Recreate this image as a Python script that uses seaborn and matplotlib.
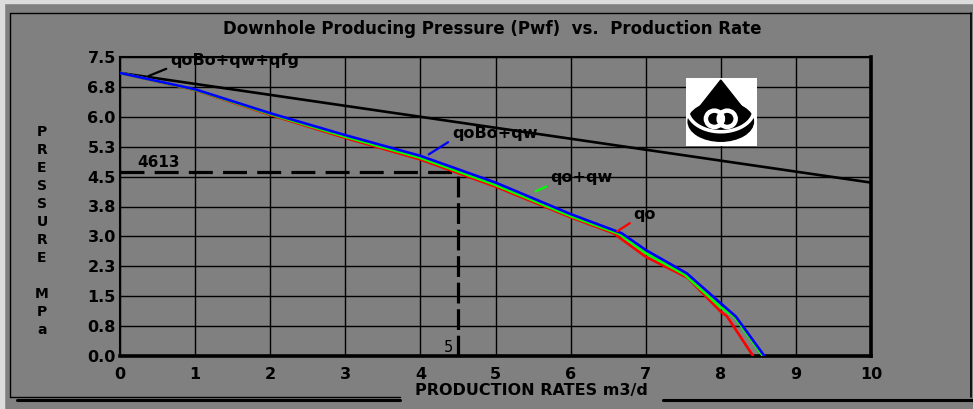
import numpy as np
import pandas as pd
import matplotlib
matplotlib.use("Agg")
import matplotlib.pyplot as plt
from matplotlib.patches import Rectangle, Polygon, Ellipse, Circle
from matplotlib.lines import Line2D
import seaborn as sns

# values
q_blue = [0, 1, 2, 3, 4, 5, 6, 6.68, 7, 7.55, 8, 8.2, 8.58]
p_blue = [7.10, 6.69, 6.09, 5.54, 5.02, 4.35, 3.56, 3.08, 2.66, 2.07, 1.32, 0.99, 0.0]

q_green = [0, 1, 2, 3, 4, 5, 6, 6.65, 7, 7.52, 8, 8.18, 8.56]
p_green = [7.10, 6.68, 6.07, 5.50, 4.97, 4.29, 3.51, 3.06, 2.58, 2.04, 1.22, 0.99, 0.0]

q_red = [0, 1, 2, 3, 4, 5, 6, 6.57, 7, 7.56, 8, 8.08, 8.43]
p_red = [7.10, 6.67, 6.05, 5.47, 4.93, 4.25, 3.48, 3.08, 2.49, 1.96, 1.11, 1.00, 0.0]

q_total = [0, 10]
p_total = [7.10, 4.35]

op_rate = 4.5
op_pwf = 4.613

x_ticks = list(range(0, 11))
y_ticks = [0, 0.75, 1.5, 2.25, 3.0, 3.75, 4.5, 5.25, 6.0, 6.75, 7.5]
y_tick_labels = ["0.0", "0.8", "1.5", "2.3", "3.0", "3.8", "4.5", "5.3", "6.0", "6.8", "7.5"]

GRAY = "#808080"

sns.set_theme(style="white", rc={"axes.facecolor": GRAY, "figure.facecolor": GRAY})
plt.rcParams['font.family'] = ['DejaVu Sans']

W, H = 973, 409
fig = plt.figure(figsize=(W / 100, H / 100), dpi=100)
ax = fig.add_axes([120 / W, (H - 356) / H, 751 / W, 299 / H])

# curves
series = [
    ("qoBo+qw+qfg", q_total, p_total, "black"),
    ("qo", q_red, p_red, "#ff0000"),
    ("qo+qw", q_green, p_green, "#00ff00"),
    ("qoBo+qw", q_blue, p_blue, "#0000ff"),
]
for name, q, p, c in series:
    df = pd.DataFrame({"rate": q, "pwf": p})
    sns.lineplot(data=df, x="rate", y="pwf", color=c, lw=1.9, sort=False, ax=ax, zorder=4)

# operating point dashed lines
ax.plot([0, op_rate], [op_pwf, op_pwf], color="black", lw=2.3, dashes=(7.5, 3.2), zorder=3)
ax.plot([op_rate, op_rate], [0, op_pwf], color="black", lw=2.3, dashes=(6.5, 1.8), zorder=3)
ax.text(0.23, op_pwf + 0.06, f"{op_pwf * 1000:.0f}", fontsize=11, fontweight="bold",
        ha="left", va="bottom", color="black")
ax.text(op_rate - 0.06, 0.22, "5", fontsize=10.5, ha="right", va="center", color="black")

# curve labels with leader lines
labels = [
    ("qoBo+qw+qfg", (0.67, 7.42), (0.35, 7.0), "black"),
    ("qoBo+qw", (4.42, 5.59), (4.08, 5.02), "#0000ff"),
    ("qo+qw", (5.73, 4.47), (5.50, 4.10), "#00ff00"),
    ("qo", (6.84, 3.56), (6.59, 3.09), "#ff0000"),
]
for txt, tpos, apos, c in labels:
    ax.annotate("", xy=apos, xytext=(tpos[0] - 0.02, tpos[1] - 0.19),
                arrowprops=dict(arrowstyle="-", color=c, lw=1.6), zorder=5)
    ax.text(tpos[0], tpos[1], txt, fontsize=11.5, fontweight="bold", color="black",
            ha="left", va="center", zorder=6)

ax.set_xlim(0, 10)
ax.set_ylim(0, 7.5)
ax.set_xticks(x_ticks)
ax.set_xticklabels([str(v) for v in x_ticks])
ax.set_yticks(y_ticks)
ax.set_yticklabels(y_tick_labels)
ax.tick_params(length=0, labelsize=11.5, colors="black")
ax.tick_params(axis="x", pad=8)
ax.tick_params(axis="y", pad=3)
for lab in ax.get_xticklabels() + ax.get_yticklabels():
    lab.set_fontweight("bold")
ax.grid(True, color="black", lw=1.0, zorder=1)
ax.set_axisbelow(True)
ax.set_xlabel("")
ax.set_ylabel("")
for side, lw in [("left", 1.5), ("top", 1.5), ("bottom", 2.6), ("right", 2.6)]:
    ax.spines[side].set_visible(True)
    ax.spines[side].set_color("black")
    ax.spines[side].set_linewidth(lw)

# logo in the upper right of the plot (u to the right, v downwards)
lg = fig.add_axes([686 / W, (H - 146) / H, 71 / W, 68 / H])
lg.set_xlim(0, 1)
lg.set_ylim(1, 0)
lg.set_facecolor("white")
lg.set_xticks([])
lg.set_yticks([])
for s in lg.spines.values():
    s.set_visible(False)
lg.add_patch(Polygon([[0.49, 0.03], [0.18, 0.44], [0.80, 0.44]], color="black"))
lg.add_patch(Ellipse((0.49, 0.64), 0.92, 0.58, color="black"))
t = np.linspace(0.25, np.pi - 0.25, 40)
lg.plot(0.49 + 0.47 * np.cos(t), 0.46 + 0.33 * np.sin(t), color="white", lw=2.6)
lg.add_patch(Circle((0.40, 0.60), 0.12, fill=False, ec="white", lw=3.2))
lg.add_patch(Circle((0.58, 0.60), 0.12, fill=False, ec="white", lw=3.2))

# window decorations
fig.add_artist(Rectangle((0, 0), 4 / W, 1, transform=fig.transFigure, color="#dcdcdc", zorder=0))
fig.add_artist(Rectangle((0, 1 - 3 / H), 1, 3 / H, transform=fig.transFigure, color="#dcdcdc", zorder=0))

def fline(xs, ys, lw):
    fig.add_artist(Line2D([x / W for x in xs], [1 - y / H for y in ys],
                          transform=fig.transFigure, color="black", lw=lw))

fline([10, 10], [13, 397], 1.0)
fline([10, 971], [13, 13], 1.0)
fline([971, 971], [13, 397], 1.2)
fline([10, 400], [397, 397], 1.0)
fline([17, 400], [399.5, 399.5], 2.2)
fline([663, 973], [399.5, 399.5], 2.2)

fig.text(492 / W, 1 - 29 / H, "Downhole Producing Pressure (Pwf)  vs.  Production Rate",
         ha="center", va="center", fontsize=12, fontweight="bold", color="black")
fig.text(531 / W, 1 - 391 / H, "PRODUCTION RATES m3/d", ha="center", va="center",
         fontsize=11.5, fontweight="bold", color="black")

ylabel_chars = "PRESSURE MPa"
for i, ch in enumerate(ylabel_chars):
    if ch == " ":
        continue
    fig.text(42 / W, 1 - (132 + 18 * i) / H, ch, ha="center", va="center",
             fontsize=10, fontweight="bold", color="black")

fig.savefig("out.png", dpi=100, facecolor=GRAY)
